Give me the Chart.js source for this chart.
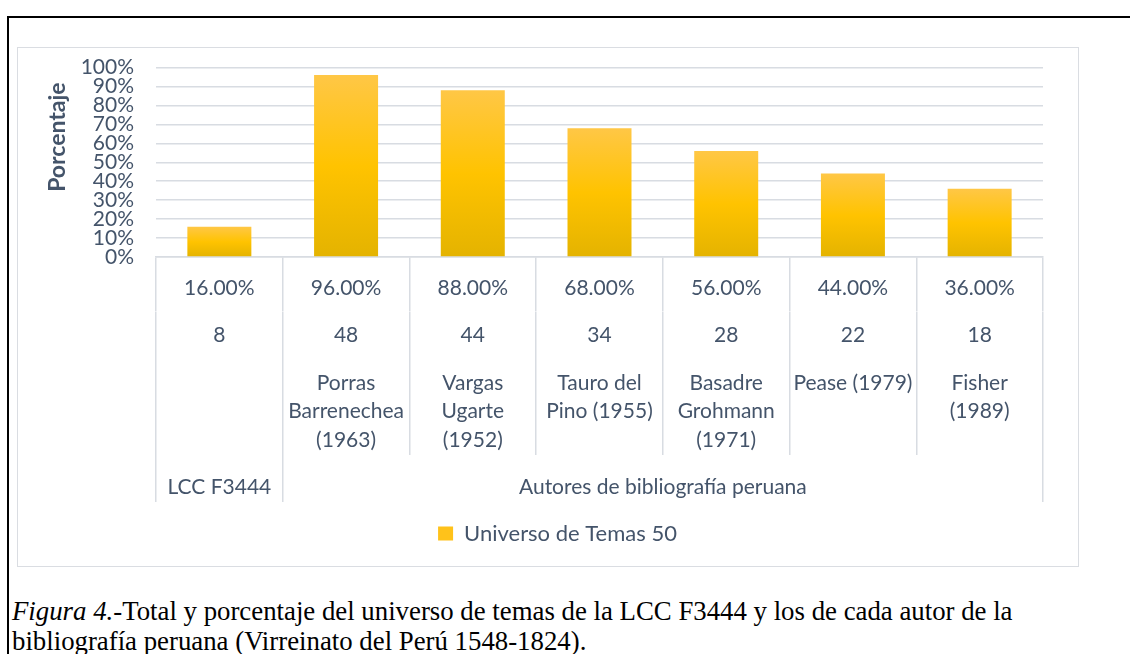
<!DOCTYPE html>
<html lang="es">
<head>
<meta charset="UTF-8">
<title>Figura 4 - Universo de temas LCC F3444</title>
<script src="https://cdn.jsdelivr.net/npm/chart.js"></script>
<style>
    body { margin: 0; background: #fff; width: 1130px; height: 654px; overflow: hidden; position: relative; }
    .marco { position: absolute; left: 7px; top: 16px; width: 1300px; height: 800px;
             border-left: 2px solid #000; border-top: 2px solid #000; }
    .grafico { position: absolute; left: 17px; top: 47px; width: 1060px; height: 518px;
               border: 1px solid #dadde2; background: #fff; }
    .pie { position: absolute; left: 12px; top: 597px; color: #000; white-space: nowrap;
           font: 26.8px/29.5px "Liberation Serif", "Times New Roman", serif; }
</style>
</head>
<body>
<div class="marco"></div>
<div class="grafico"><canvas id="temasChart"></canvas></div>
<div class="pie"><i>Figura 4.</i>-Total y porcentaje del universo de temas de la LCC F3444 y los de cada autor de la<br>bibliografía peruana (Virreinato del Perú 1548-1824).</div>

<script>
    // datos
    const categorias = ['LCC F3444', 'Porras Barrenechea (1963)', 'Vargas Ugarte (1952)', 'Tauro del Pino (1955)',
                        'Basadre Grohmann (1971)', 'Pease (1979)', 'Fisher (1989)'];
    const nombres = [[''], ['Porras', 'Barrenechea', '(1963)'], ['Vargas', 'Ugarte', '(1952)'], ['Tauro del', 'Pino (1955)'],
                     ['Basadre', 'Grohmann', '(1971)'], ['Pease (1979)'], ['Fisher', '(1989)']];
    const temas = [8, 48, 44, 34, 28, 22, 18];
    const porcentajes = [16, 96, 88, 68, 56, 44, 36];
    const grupos = ['LCC F3444', 'Autores de bibliografía peruana'];
    const gruposTamano = [1, 6];
    const serie = 'Universo de Temas 50';

    const textColor = '#44546A';
    const gridColor = '#d8dce2';

    // limites y centros de los grupos en unidades de categoria
    const limites = [0];
    const centros = [];
    gruposTamano.forEach(n => {
        const ini = limites[limites.length - 1];
        centros.push(ini + n / 2);
        limites.push(ini + n);
    });

    Chart.defaults.font.family = 'Lato';
    Chart.defaults.font.size = 21;
    Chart.defaults.color = textColor;

    function barGradient(context) {
        const chart = context.chart;
        if (!chart.chartArea || context.type !== 'data') return '#FFC000';
        const y = chart.scales.y;
        const top = y.getPixelForValue(porcentajes[context.dataIndex]);
        const bottom = y.getPixelForValue(0);
        const g = chart.ctx.createLinearGradient(0, top, 0, bottom);
        g.addColorStop(0, '#FFC746');
        g.addColorStop(0.5, '#FFC300');
        g.addColorStop(1, '#E4B300');
        return g;
    }

    // eje de categorias usado como fila de la tabla: separadores de toda la altura
    function filaTabla(weight, alto, centro, callback, lh) {
        return {
            type: 'category',
            position: 'bottom',
            weight: weight,
            offset: true,
            grid: { offset: true, drawOnChartArea: false, color: gridColor, lineWidth: 1.5, tickLength: alto },
            border: { display: false },
            ticks: {
                autoSkip: false, maxRotation: 0, minRotation: 0,
                font: { size: 21, lineHeight: lh + 'px' },
                padding: centro - lh / 2 - alto,
                callback: callback
            },
            afterFit: s => { s.height = alto; }
        };
    }

    const ejeX = filaTabla(0, 54.5, 31, (v, i) => porcentajes[i].toFixed(2) + '%', 25.2);
    ejeX.border = { display: true, color: gridColor, width: 1.5 };

    const ctx = document.getElementById('temasChart').getContext('2d');
    const temasChart = new Chart(ctx, {
        type: 'bar',
        data: {
            labels: categorias,
            datasets: [{
                label: serie,
                data: porcentajes,
                backgroundColor: barGradient,
                borderWidth: 0,
                barPercentage: 0.505,
                categoryPercentage: 1
            }]
        },
        options: {
            responsive: true,
            maintainAspectRatio: false,
            animation: false,
            layout: { padding: { top: 19.5, right: 0, bottom: 11.5, left: 19 } },
            plugins: {
                tooltip: { enabled: false },
                legend: {
                    position: 'bottom',
                    labels: {
                        boxWidth: 15, boxHeight: 14, padding: 10, color: textColor, font: { size: 22 },
                        generateLabels: chart => Chart.defaults.plugins.legend.labels.generateLabels(chart)
                            .map(l => Object.assign(l, { fillStyle: '#FFC21A' }))
                    }
                }
            },
            scales: {
                y: {
                    min: 0,
                    max: 100,
                    ticks: { stepSize: 10, autoSkip: false, padding: 0, font: { size: 21, lineHeight: 1 },
                             callback: v => v + '%' },
                    grid: { color: gridColor, lineWidth: 1.5, drawTicks: true, tickLength: 22, tickColor: 'rgba(0,0,0,0)' },
                    border: { display: false },
                    title: {
                        display: true,
                        text: ' '.repeat(9) + 'Porcentaje',
                        font: { size: 23, weight: 'bold' },
                        padding: { top: 7, bottom: 0 }
                    },
                    afterFit: s => { s.width = 119; }
                },
                // margen derecho vacio del area de trazado
                yDerecha: {
                    type: 'linear',
                    position: 'right',
                    grid: { display: false },
                    border: { display: false },
                    ticks: { display: false },
                    afterFit: s => { s.width = 35; }
                },
                x: ejeX,
                xTemas: filaTabla(1, 47.5, 23.5, (v, i) => String(temas[i]), 25.2),
                xNombres: filaTabla(2, 96, 24, (v, i) => nombres[i], 28.5),
                xGrupos: {
                    type: 'linear',
                    position: 'bottom',
                    weight: 3,
                    offset: false,
                    min: limites[0],
                    max: limites[limites.length - 1],
                    afterBuildTicks: s => {
                        s.ticks = limites.concat(centros).sort((a, b) => a - b).map(v => ({ value: v }));
                    },
                    grid: {
                        offset: false, drawOnChartArea: false, lineWidth: 1.5, tickLength: 47,
                        color: c => (c.tick && limites.includes(c.tick.value)) ? gridColor : 'rgba(0,0,0,0)'
                    },
                    border: { display: false },
                    ticks: {
                        autoSkip: false, maxRotation: 0, minRotation: 0,
                        font: { size: 21, lineHeight: '25.2px' },
                        padding: 32 - 12.6 - 47,
                        callback: v => {
                            const k = centros.indexOf(v);
                            return k >= 0 ? grupos[k] : '';
                        }
                    },
                    afterFit: s => { s.height = 57.5; }
                }
            }
        }
    });
</script>
</body>
</html>
